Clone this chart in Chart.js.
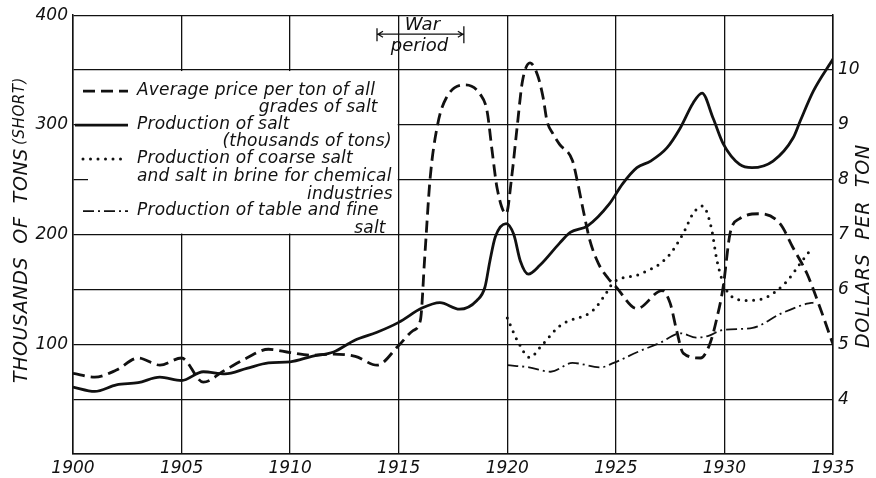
<!DOCTYPE html>
<html>
<head>
<meta charset="utf-8">
<script src="https://cdn.jsdelivr.net/npm/chart.js@4/dist/chart.umd.min.js"></script>
<style>
  html, body { margin: 0; padding: 0; background: #fff; }
  #wrap { width: 876px; height: 478px; }
</style>
</head>
<body>
<div id="wrap"><canvas id="saltChart" width="876" height="478"></canvas></div>
<script>
// average price per ton, dollars (right axis)
const priceYears = [1900, 1901, 1902, 1903, 1904, 1905, 1906, 1907, 1908, 1909, 1910, 1911, 1912, 1913, 1914, 1915,
  1915.66, 1916, 1916.2, 1916.45, 1916.8, 1917.2, 1918.06, 1918.75, 1919.07, 1919.3, 1919.53, 1919.95, 1920.2, 1920.45,
  1920.7, 1921.05, 1921.4, 1921.65, 1921.83, 1922.1, 1922.4, 1923, 1923.25, 1923.5, 1923.8, 1924.2, 1924.65, 1925,
  1925.97, 1927.13, 1927.5, 1927.8, 1928.1, 1928.9, 1929.34, 1929.66, 1929.94, 1930.26, 1930.7, 1931.64, 1932.56,
  1933.16, 1933.8, 1934.4, 1935];
const priceValues = [4.47, 4.40, 4.53, 4.75, 4.62, 4.75, 4.31, 4.53, 4.75, 4.91, 4.85, 4.80, 4.82, 4.78, 4.62, 4.98,
  5.25, 5.44, 6.6, 8.04, 9.02, 9.5, 9.73, 9.56, 9.25, 8.53, 7.85, 7.38, 8.04, 8.95,
  9.8, 10.13, 9.9, 9.5, 9.07, 8.84, 8.65, 8.35, 7.93, 7.44, 6.9, 6.47, 6.2, 6.05,
  5.65, 5.98, 5.75, 5.25, 4.84, 4.75, 5.02, 5.49, 6.04, 7.02, 7.29, 7.38, 7.2,
  6.76, 6.29, 5.67, 5.0];

// production of salt, thousands of tons (left axis)
const prodYears = [1900, 1901, 1902, 1903, 1904, 1905, 1906, 1907, 1908, 1909, 1910, 1911, 1912, 1913, 1914, 1915,
  1916.07, 1916.9, 1917.8, 1918.6, 1918.97, 1919.2, 1919.45, 1919.95, 1920.3, 1920.6, 1920.97, 1921.5, 1922.4, 1922.9,
  1923.7, 1924.7, 1925.3, 1925.97, 1926.6, 1927.35, 1927.96, 1928.56, 1928.97, 1929.48, 1929.94, 1930.7, 1931.27,
  1932.24, 1933.16, 1933.5, 1934.1, 1935];
const prodValues = [61, 57, 63, 65, 70, 67, 75, 73, 78, 83, 84, 89, 93, 104, 111, 120,
  133, 138, 132, 140, 152, 176, 198, 210, 200, 176, 164, 172, 192, 202,
  208, 228, 246, 261, 267, 279, 297, 320, 329, 306, 283, 264, 261,
  267, 288, 304, 331, 360];

// coarse salt and salt in brine for chemical industries
const coarseYears = [1920, 1920.45, 1921.05, 1921.5, 1922.43, 1923.95, 1924.5, 1924.87, 1926.1, 1927.35, 1928.1,
  1928.55, 1929, 1929.4, 1929.66, 1930.1, 1931, 1931.95, 1932.9, 1933.5, 1934.04];
const coarseValues = [124, 104, 88, 97, 117, 131, 145, 156, 164, 179, 201,
  219, 226, 206, 176, 149, 140, 143, 158, 174, 188];

// table and fine salt
const tableYears = [1920, 1921, 1922, 1923, 1924.3, 1924.9, 1926, 1927, 1928, 1928.7, 1929.3, 1929.9, 1931.3,
  1932.6, 1933.8, 1934.1];
const tableValues = [81, 79, 75, 83, 79, 83, 93, 101, 110, 106, 108, 113, 115, 128, 137, 138];

const leftTickLabels = [100, 200, 300, 400];
const rightTickLabels = [4, 5, 6, 7, 8, 9, 10];
const warPeriod = [1914, 1918];

const FONT = '"DejaVu Sans", sans-serif';
const toPoints = (xs, ys) => xs.map((x, i) => ({ x: x, y: ys[i] }));

const DASH = [12, 6];
const DOT = [0, 7.5];
const DASHDOT = [11, 4, 2, 4];

const legendItems = [
  { dash: DASH, width: 2.8, cap: 'butt', lines: ['Average price per ton of all', 'grades of salt'] },
  { dash: [], width: 2.8, cap: 'butt', lines: ['Production of salt', '(thousands of tons)'] },
  { dash: DOT, width: 3, cap: 'round', lines: ['Production of coarse salt', 'and salt in brine for chemical', 'industries'] },
  { dash: DASHDOT, width: 1.8, cap: 'butt', lines: ['Production of table and fine', 'salt'] }
];

// legend box, war period arrow and axis titles
const decorPlugin = {
  id: 'decor',
  beforeDatasetsDraw(chart) {
    const ctx = chart.ctx;
    const xs = chart.scales.x, ys = chart.scales.y;
    const area = chart.chartArea;
    const bx0 = area.left + 15, bx1 = xs.getPixelForValue(1915) - 1;
    const by0 = ys.getPixelForValue(350) + 1, by1 = ys.getPixelForValue(200) - 1;
    ctx.save();
    ctx.fillStyle = '#fff';
    ctx.fillRect(bx0, by0, bx1 - bx0, by1 - by0);

    ctx.strokeStyle = '#111';
    ctx.fillStyle = '#111';
    ctx.font = 'italic 17px ' + FONT;
    ctx.letterSpacing = '0.2px';
    ctx.textBaseline = 'middle';
    const rows = [[by0 + 20, by0 + 37], [by0 + 54, by0 + 71], [by0 + 88, by0 + 106, by0 + 124], [by0 + 140, by0 + 158]];
    const rightEnds = [bx1 - 20, bx1 - 6, bx1 - 5, bx1 - 12];
    legendItems.forEach((it, i) => {
      const y = rows[i][0];
      ctx.beginPath();
      ctx.lineWidth = it.width;
      ctx.lineCap = it.cap;
      ctx.setLineDash(it.dash);
      ctx.moveTo(area.left + (i === 1 ? 2 : 10), y);
      ctx.lineTo(area.left + 55, y);
      ctx.stroke();
      ctx.setLineDash([]);
      it.lines.forEach((t, j) => {
        const last = j === it.lines.length - 1 && j > 0;
        if (last) {
          ctx.textAlign = 'right';
          ctx.fillText(t, rightEnds[i], rows[i][j]);
        } else {
          ctx.textAlign = 'left';
          ctx.fillText(t, area.left + 64, rows[i][j]);
        }
      });
    });
    ctx.letterSpacing = '0px';

    // war period
    const wx0 = xs.getPixelForValue(warPeriod[0]), wx1 = xs.getPixelForValue(warPeriod[1]);
    const wy = area.top + 19;
    ctx.lineWidth = 1.3;
    ctx.lineCap = 'butt';
    ctx.beginPath();
    ctx.moveTo(wx0, wy - 6); ctx.lineTo(wx0, wy + 7);
    ctx.moveTo(wx1, wy - 8); ctx.lineTo(wx1, wy + 9);
    ctx.moveTo(wx0, wy); ctx.lineTo(wx1, wy);
    ctx.moveTo(wx0 + 6, wy - 3); ctx.lineTo(wx0 + 1, wy); ctx.lineTo(wx0 + 6, wy + 3);
    ctx.moveTo(wx1 - 6, wy - 3); ctx.lineTo(wx1 - 1, wy); ctx.lineTo(wx1 - 6, wy + 3);
    ctx.stroke();
    ctx.font = 'italic 18px ' + FONT;
    ctx.textAlign = 'center';
    ctx.fillText('War', (wx0 + wx1) / 2 + 2, wy - 9);
    ctx.fillText('period', (wx0 + wx1) / 2 - 1, wy + 12);
    ctx.restore();
  },
  afterDraw(chart) {
    const ctx = chart.ctx;
    ctx.save();
    ctx.fillStyle = '#111';
    ctx.textBaseline = 'middle';
    // left title, reading bottom to top
    ctx.translate(22, 230);
    ctx.rotate(-Math.PI / 2);
    ctx.letterSpacing = '0.6px';
    ctx.font = 'italic 19px ' + FONT;
    const main = 'THOUSANDS  OF  TONS';
    const small = '(SHORT)';
    const w1 = ctx.measureText(main).width;
    ctx.font = 'italic 15px ' + FONT;
    const w2 = ctx.measureText(small).width;
    const start = -(w1 + w2 + 3) / 2;
    ctx.textAlign = 'left';
    ctx.font = 'italic 19px ' + FONT;
    ctx.fillText(main, start, 0);
    ctx.font = 'italic 15px ' + FONT;
    ctx.fillText(small, start + w1 + 3, -2);
    ctx.restore();

    ctx.save();
    ctx.fillStyle = '#111';
    ctx.textBaseline = 'middle';
    ctx.textAlign = 'center';
    ctx.translate(864, 246);
    ctx.rotate(-Math.PI / 2);
    ctx.letterSpacing = '0.8px';
    ctx.font = 'italic 19px ' + FONT;
    ctx.fillText('DOLLARS  PER  TON', 0, 0);
    ctx.restore();
  }
};

new Chart(document.getElementById('saltChart'), {
  type: 'line',
  data: {
    datasets: [
      {
        label: 'Average price per ton of all grades of salt',
        data: toPoints(priceYears, priceValues),
        yAxisID: 'y1',
        borderColor: '#111',
        borderWidth: 2.8,
        borderDash: DASH,
        pointRadius: 0,
        cubicInterpolationMode: 'monotone'
      },
      {
        label: 'Production of salt (thousands of tons)',
        data: toPoints(prodYears, prodValues),
        yAxisID: 'y',
        borderColor: '#111',
        borderWidth: 2.8,
        pointRadius: 0,
        cubicInterpolationMode: 'monotone'
      },
      {
        label: 'Production of coarse salt and salt in brine for chemical industries',
        data: toPoints(coarseYears, coarseValues),
        yAxisID: 'y',
        borderColor: '#111',
        borderWidth: 3,
        borderDash: DOT,
        borderCapStyle: 'round',
        pointRadius: 0,
        cubicInterpolationMode: 'monotone'
      },
      {
        label: 'Production of table and fine salt',
        data: toPoints(tableYears, tableValues),
        yAxisID: 'y',
        borderColor: '#111',
        borderWidth: 1.8,
        borderDash: DASHDOT,
        pointRadius: 0,
        cubicInterpolationMode: 'monotone'
      }
    ]
  },
  options: {
    responsive: false,
    animation: false,
    layout: { padding: { top: 14, left: 0, right: 0, bottom: 0 } },
    plugins: {
      legend: { display: false },
      tooltip: { enabled: false }
    },
    scales: {
      x: {
        type: 'linear',
        min: 1900,
        max: 1935,
        afterFit: (s) => { s.height = 24; },
        grid: { color: '#111', lineWidth: 1.3, drawTicks: false },
        border: { color: '#111', width: 1.5 },
        ticks: {
          stepSize: 5,
          padding: 4,
          color: '#111',
          font: { family: FONT, size: 17, style: 'italic' },
          callback: (v) => String(v)
        }
      },
      y: {
        position: 'left',
        min: 0,
        max: 400,
        afterFit: (s) => { s.width = 73; },
        grid: { color: '#111', lineWidth: 1.3, drawTicks: false },
        border: { color: '#111', width: 1.5 },
        ticks: {
          stepSize: 50,
          padding: 5,
          color: '#111',
          font: { family: FONT, size: 17, style: 'italic' },
          callback: (v) => leftTickLabels.includes(v) ? String(v) : ''
        }
      },
      y1: {
        position: 'right',
        min: 3,
        max: 11,
        afterFit: (s) => { s.width = 876 - 833; },
        grid: { display: false, drawTicks: false },
        border: { color: '#111', width: 1.5 },
        ticks: {
          stepSize: 1,
          padding: 5,
          color: '#111',
          font: { family: FONT, size: 17, style: 'italic' },
          callback: (v) => rightTickLabels.includes(v) ? String(v) : ''
        }
      }
    }
  },
  plugins: [decorPlugin]
});
</script>
</body>
</html>
